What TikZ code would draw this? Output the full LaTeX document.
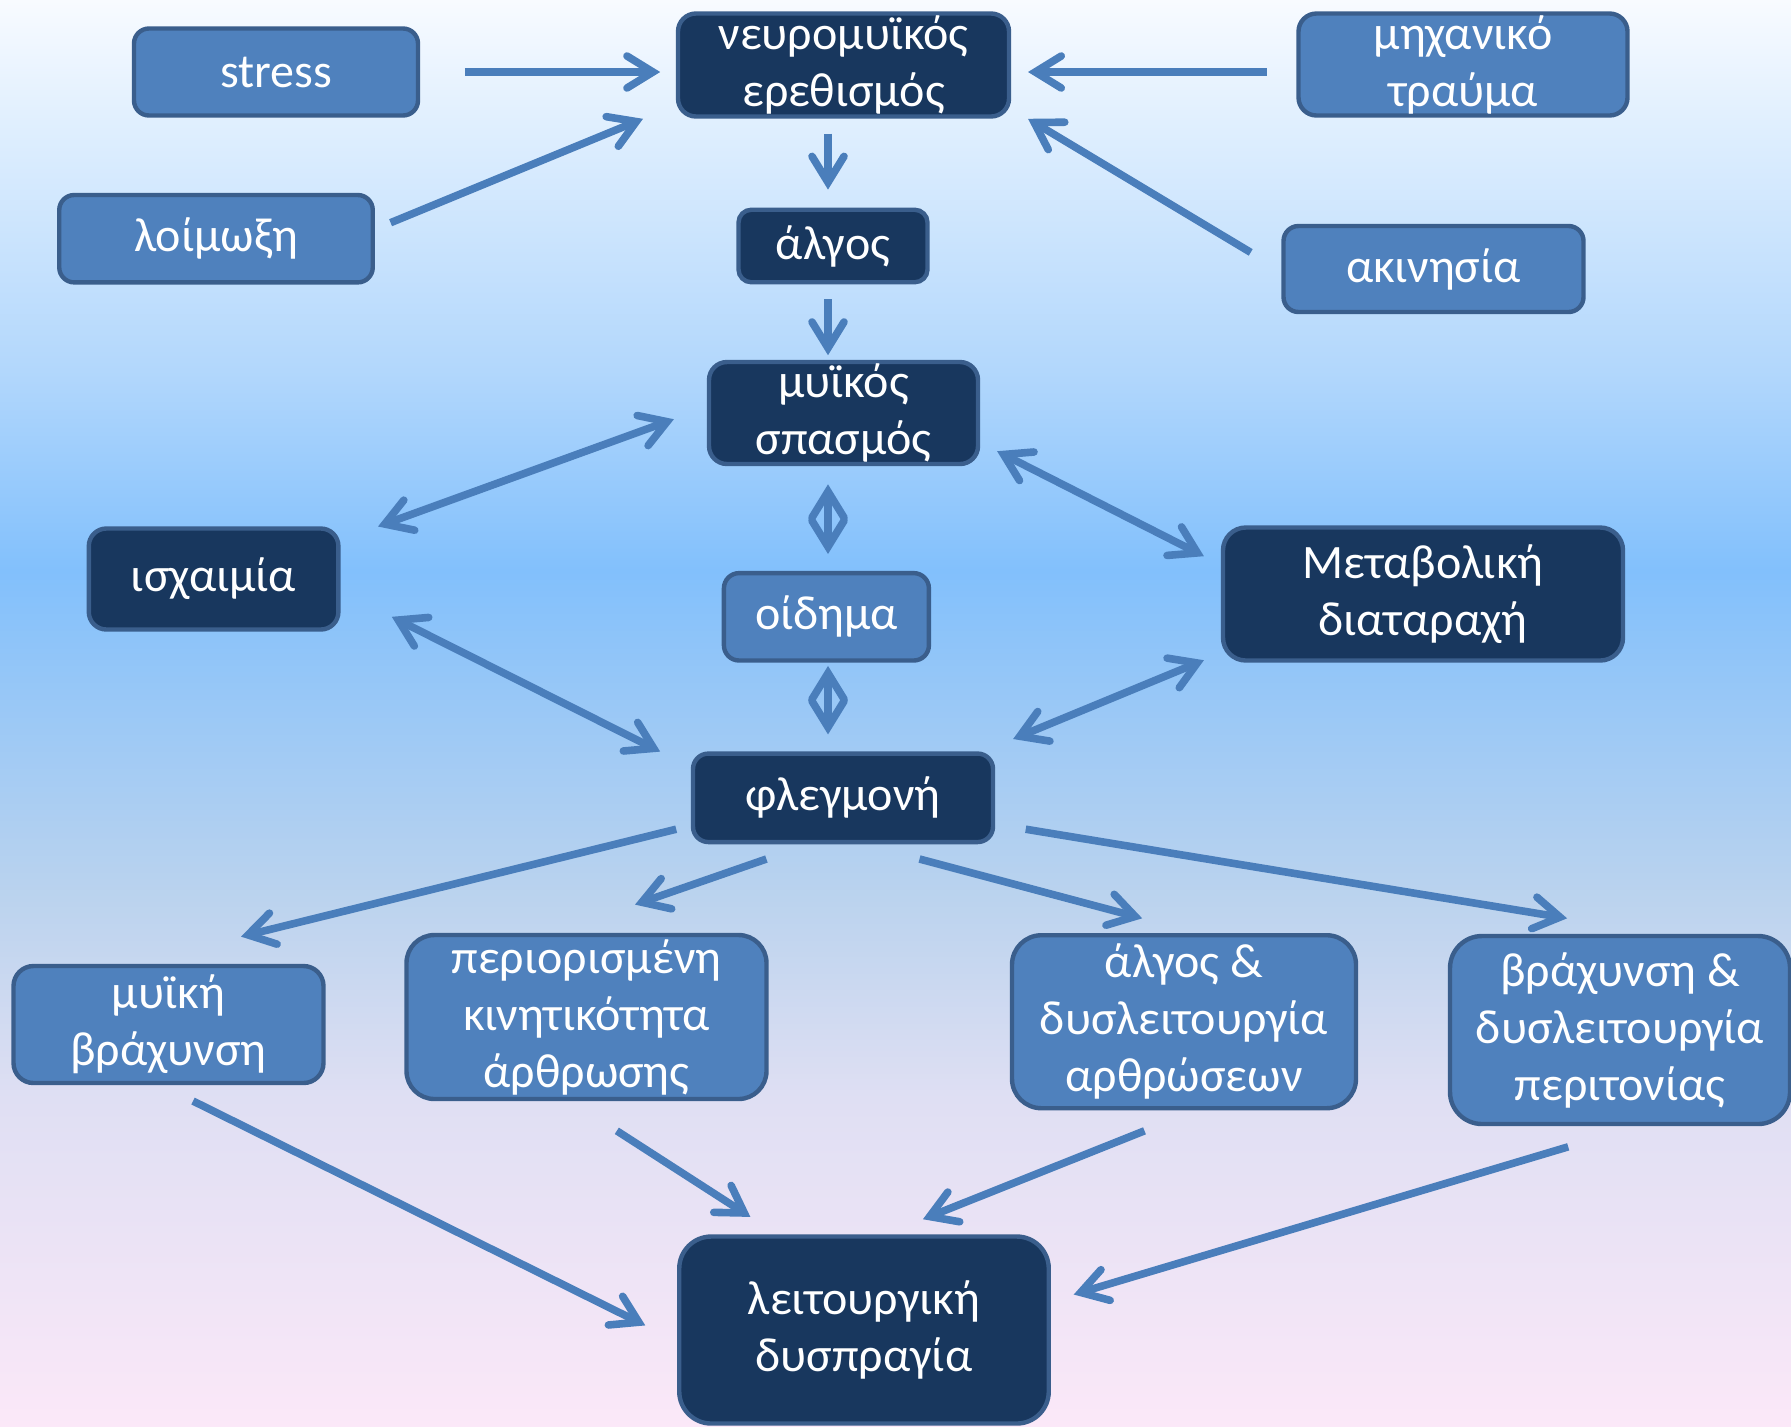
\documentclass[tikz,border=0pt]{standalone}
\usepackage{fontspec}
\setmainfont{Carlito}
\usetikzlibrary{arrows.meta,calc}
\definecolor{lightfill}{HTML}{4F81BD}
\definecolor{darkfill}{HTML}{18375E}
\definecolor{boxborder}{HTML}{3A5E8C}
\definecolor{arrowcol}{HTML}{4A7EBB}
\definecolor{bgA}{HTML}{FBE8F8}
\definecolor{bgB}{HTML}{DFDFF3}
\definecolor{bgC}{HTML}{BBD3EE}
\definecolor{bgD}{HTML}{82C0FC}
\definecolor{bgE}{HTML}{B2D7FC}
\definecolor{bgF}{HTML}{DCEDFE}
\definecolor{bgG}{HTML}{F8FBFF}
\pgfdeclareverticalshading{bgshade}{100bp}{color(0bp)=(bgA); color(25bp)=(bgA); color(36.5bp)=(bgB); color(43.5bp)=(bgC); color(55bp)=(bgD); color(62bp)=(bgE); color(70bp)=(bgF); color(75bp)=(bgG); color(100bp)=(bgG)}
\tikzset{
  headtip/.tip={Straight Barb[length=13pt,width=16pt,line cap=round,line join=miter]}
}
\begin{document}
\begin{tikzpicture}[x=0.5pt,y=-0.5pt,
  box/.style={draw=boxborder, line width=2.2pt, text=white, align=center, inner sep=0pt, font=\fontsize{24}{28.5}\selectfont},
  lbox/.style={box, fill=lightfill},
  dbox/.style={box, fill=darkfill},
  arr/.style={draw=arrowcol, line width=3.8pt, line cap=butt, -headtip},
  darr/.style={draw=arrowcol, line width=3.8pt, line cap=butt, headtip-headtip}]
\useasboundingbox (0,0) rectangle (1791,1426);
\clip (0,0) rectangle (1791,1426);
\shade[shading=bgshade] (0,0) rectangle (1791,1426);

% nodes
\node[lbox, minimum width=142pt, minimum height=43.5pt, rounded corners=7.5pt] (stress) at (276,72) {stress};
\node[dbox, minimum width=165.5pt, minimum height=51.5pt, rounded corners=9pt] (ne) at (843.5,65) {νευρομυϊκός\\ερεθισμός};
\node[lbox, minimum width=164.5pt, minimum height=51pt, rounded corners=9pt] (mi) at (1463,64.5) {μηχανικό\\τραύμα};
\node[lbox, minimum width=156.75pt, minimum height=43.7pt, rounded corners=7.5pt] (lo) at (216,238.7) {λοίμωξη};
\node[dbox, minimum width=94.5pt, minimum height=36.25pt, rounded corners=6.4pt] (al) at (833,246) {άλγος};
\node[lbox, minimum width=150pt, minimum height=43pt, rounded corners=7.5pt] (ak) at (1433.5,269) {ακινησία};
\node[dbox, minimum width=134.5pt, minimum height=51pt, rounded corners=9pt] (ms) at (843.5,413) {μυϊκός\\σπασμός};
\node[dbox, minimum width=124.8pt, minimum height=50.5pt, rounded corners=8.8pt] (is) at (213.6,579) {ισχαιμία};
\node[lbox, minimum width=102.5pt, minimum height=43.7pt, rounded corners=7.6pt] (oi) at (826.4,616.8) {οίδημα};
\node[dbox, minimum width=200pt, minimum height=66.5pt, rounded corners=11.4pt] (me) at (1423,594) {Μεταβολική\\διαταραχή};
\node[dbox, minimum width=150pt, minimum height=44.25pt, rounded corners=7.7pt] (fl) at (843,797.8) {φλεγμονή};
\node[lbox, minimum width=155pt, minimum height=58.5pt, rounded corners=10pt] (mb) at (168.5,1024.5) {μυϊκή\\βράχυνση};
\node[lbox, minimum width=180pt, minimum height=82pt, rounded corners=14pt] (pe) at (586.5,1017) {περιορισμένη\\κινητικότητα\\άρθρωσης};
\node[lbox, minimum width=172pt, minimum height=86.5pt, rounded corners=14.7pt] (ad) at (1184,1021.7) {άλγος \&\\δυσλειτουργία\\αρθρώσεων};
\node[lbox, minimum width=170pt, minimum height=94pt, rounded corners=16pt] (bd) at (1620,1030) {βράχυνση \&\\δυσλειτουργία\\περιτονίας};
\node[dbox, minimum width=184.75pt, minimum height=93.5pt, rounded corners=16pt] (ld) at (864,1330) {λειτουργική\\δυσπραγία};

% connectors
\draw[arr] ([shift={(188.9,0)}]stress.center) -- ([shift={(-183.3,7)}]ne.center);
\draw[arr] ([shift={(-196.3,7.5)}]mi.center) -- ([shift={(184.5,7)}]ne.center);
\draw[arr] ([shift={(174.6,-16)}]lo.center) -- ([shift={(-200.5,53.8)}]ne.center);
\draw[arr] ([shift={(-182.8,-16.6)}]ak.center) -- ([shift={(184.5,53.8)}]ne.center);
\draw[arr] ([shift={(-15.5,68.6)}]ne.center) -- ([shift={(-5,-56.4)}]al.center);
\draw[arr] ([shift={(-5,53.3)}]al.center) -- ([shift={(-15.5,-57.8)}]ms.center);
\draw[darr] ([shift={(-169.6,6.2)}]ms.center) -- ([shift={(164.4,-52.5)}]is.center);
\draw[darr] ([shift={(153.6,38.2)}]ms.center) -- ([shift={(-219.1,-37.8)}]me.center);
\draw[darr] ([shift={(-15.5,71.3)}]ms.center) -- ([shift={(1.6,-62.8)}]oi.center);
\draw[darr] ([shift={(1.6,49.1)}]oi.center) -- ([shift={(-15,-63.4)}]fl.center);
\draw[darr] ([shift={(178.2,37.8)}]is.center) -- ([shift={(-182.8,-46.2)}]fl.center);
\draw[darr] ([shift={(-219.1,66.2)}]me.center) -- ([shift={(170.1,-58.8)}]fl.center);
\draw[arr] ([shift={(-166.8,31.4)}]fl.center) -- ([shift={(72.5,-87.9)}]mb.center);
\draw[arr] ([shift={(-76.6,61.2)}]fl.center) -- ([shift={(48.5,-112.4)}]pe.center);
\draw[arr] ([shift={(76.5,61.2)}]fl.center) -- ([shift={(-41.8,-103.4)}]ad.center);
\draw[arr] ([shift={(182.7,31.4)}]fl.center) -- ([shift={(-52.9,-111.7)}]bd.center);
\draw[arr] ([shift={(24.5,76.5)}]mb.center) -- ([shift={(-218.7,-4.6)}]ld.center);
\draw[arr] ([shift={(30.3,113.8)}]pe.center) -- ([shift={(-113.6,-113.1)}]ld.center);
\draw[arr] ([shift={(-39.5,109.1)}]ad.center) -- ([shift={(58.9,-110.8)}]ld.center);
\draw[arr] ([shift={(-51.8,116.8)}]bd.center) -- ([shift={(209.7,-35.5)}]ld.center);
\end{tikzpicture}
\end{document}
